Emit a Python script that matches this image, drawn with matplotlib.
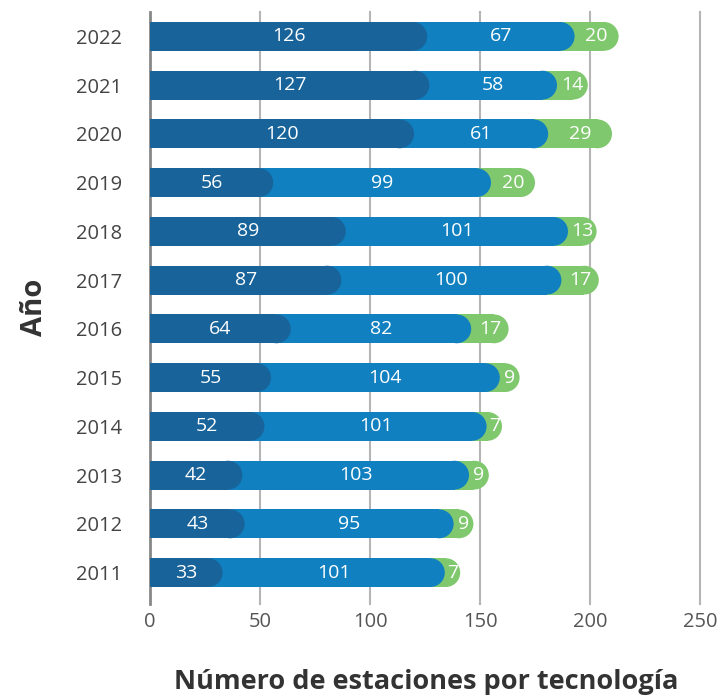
import matplotlib
matplotlib.use("Agg")
import matplotlib.pyplot as plt
from matplotlib.patches import Ellipse

years = ["2022", "2021", "2020", "2019", "2018", "2017", "2016", "2015", "2014", "2013", "2012", "2011"]
serie_a = [126, 127, 120, 56, 89, 87, 64, 55, 52, 42, 43, 33]
serie_b = [67, 58, 61, 99, 101, 100, 82, 104, 101, 103, 95, 101]
serie_c = [20, 14, 29, 20, 13, 17, 17, 9, 7, 9, 9, 7]
series = [serie_a, serie_b, serie_c]
colors = ["#186399", "#1080c0", "#80c86e"]
xticks = [0, 50, 100, 150, 200, 250]

plt.rcParams['font.family'] = ['Open Sans', 'DejaVu Sans']

W, H = 719, 695
fig = plt.figure(figsize=(W / 100, H / 100), dpi=100)
left, right, top, bottom = 150 / W, 700 / W, 1 - 12 / H, 1 - 597 / H
ax = fig.add_axes([left, bottom, right - left, top - bottom])

n = len(years)
ypos = list(range(n - 1, -1, -1))
ax.set_xlim(0, 250)
ax.set_ylim(-0.5, n - 0.5)

bh = 0.59
px_x = (right - left) * W / 250.0
px_y = (top - bottom) * H / n
rx = (bh * px_y / 2) / px_x

cums = []
run = [0] * n
for s in series:
    run = [r + v for r, v in zip(run, s)]
    cums.append(list(run))

for k in range(len(series) - 1, -1, -1):
    ends = cums[k]
    ax.barh(ypos, [e - rx for e in ends], left=0, height=bh, color=colors[k],
            linewidth=0, zorder=2 + (3 - k))
    for y, e in zip(ypos, ends):
        ax.add_patch(Ellipse((e - rx, y), 2 * rx, bh, facecolor=colors[k],
                             linewidth=0, zorder=2 + (3 - k)))

for k, s in enumerate(series):
    starts = [c - v for c, v in zip(cums[k], s)]
    for y, st, v in zip(ypos, starts, s):
        ax.text(st + v / 2, y, str(v), ha='center', va='center', color='white',
                fontsize=14, zorder=10)

for x in xticks[1:]:
    ax.axvline(x, color='#b5b5b5', lw=1.5, zorder=0, ymin=-0.012, clip_on=False)
ax.axvline(0, color='#888888', lw=2, zorder=1, ymin=-0.012, clip_on=False)

for sp in ax.spines.values():
    sp.set_visible(False)
ax.set_xticks(xticks)
ax.set_xticklabels([str(t) for t in xticks], fontsize=14.5, color='#555555')
ax.tick_params(axis='x', length=0, pad=11)
ax.set_yticks(ypos)
ax.set_yticklabels(years, fontsize=14.5, color='#444444')
ax.tick_params(axis='y', length=0, pad=20)

fig.text(35 / W, 1 - 307 / H, "Año", rotation=90, ha='center', va='center',
         fontsize=21, fontweight='bold', color='#333333')
fig.text(426 / W, 1 - 682 / H, "Número de estaciones por tecnología", ha='center',
         va='center', fontsize=19.5, fontweight='bold', color='#333333')

fig.savefig("out.png", dpi=100)
